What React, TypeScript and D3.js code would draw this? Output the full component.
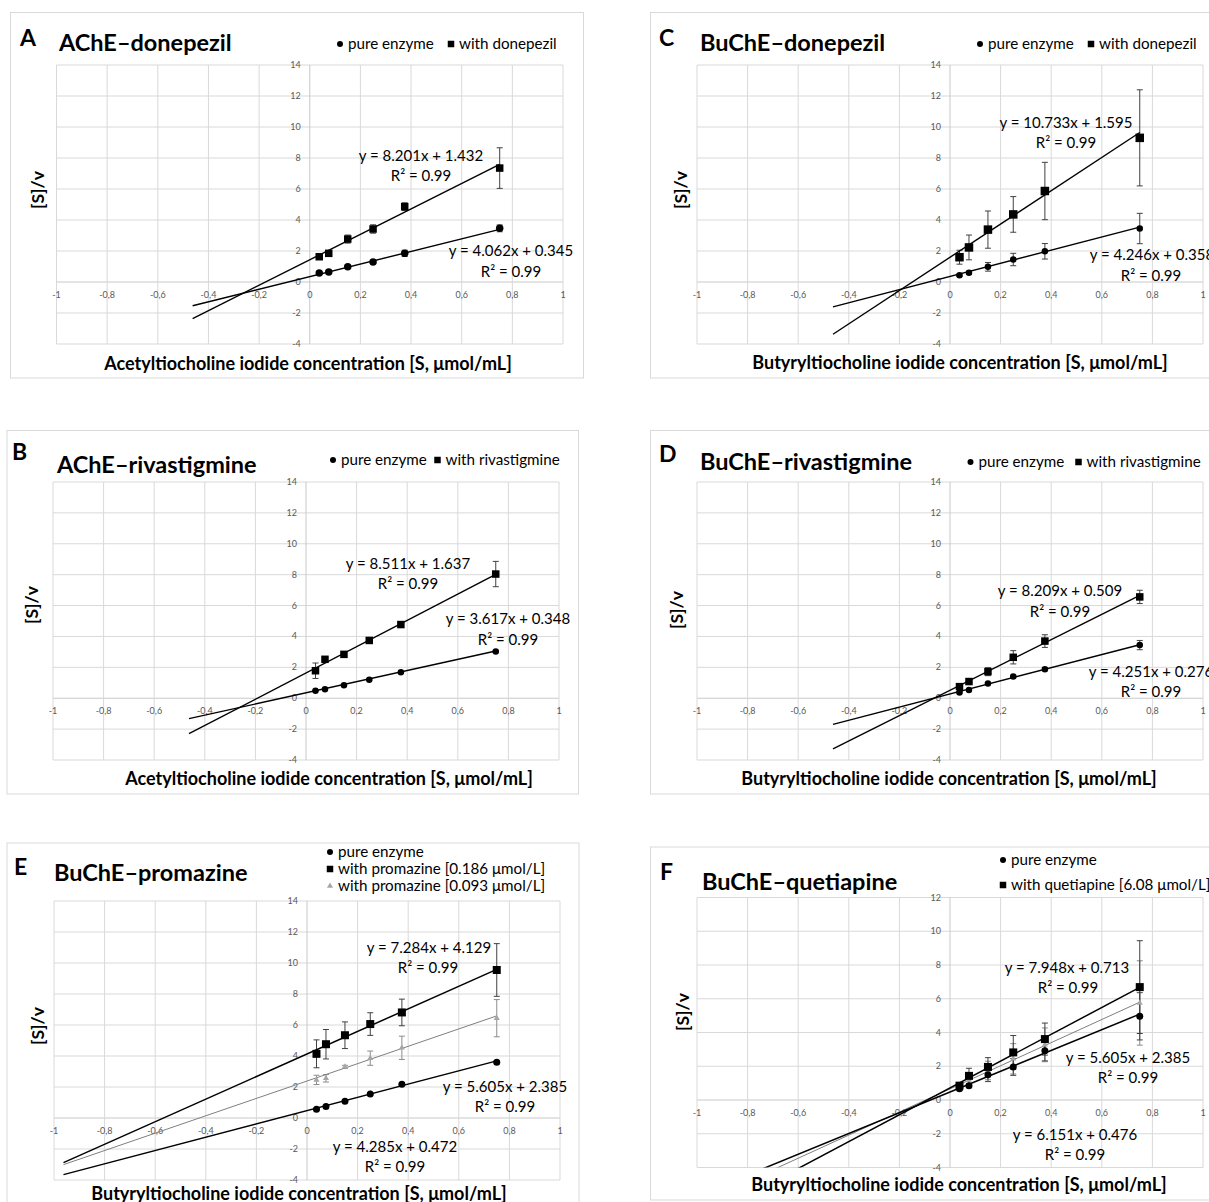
import React from 'react';
import * as d3 from 'd3';

// ---------- shared data ----------
const substrate = [0.0375, 0.075, 0.15, 0.25, 0.375, 0.75];
const xTicks = [-1, -0.8, -0.6, -0.4, -0.2, 0, 0.2, 0.4, 0.6, 0.8, 1];
const yTicks14 = [-4, -2, 0, 2, 4, 6, 8, 10, 12, 14];
const yTicks12 = [-4, -2, 0, 2, 4, 6, 8, 10, 12];

// ---------- Panel A: AChE–donepezil ----------
const aPure = [0.58, 0.65, 0.99, 1.29, 1.85, 3.46];
const aPureErr = [0.04, 0.05, 0.08, 0.1, 0.2, 0.22];
const aDon = [1.63, 1.85, 2.77, 3.42, 4.86, 7.35];
const aDonErr = [0.12, 0.1, 0.26, 0.27, 0.25, 1.31];
const aTrendPure = [4.062, 0.345];
const aTrendDon = [8.201, 1.432];

// ---------- Panel B: AChE–rivastigmine ----------
const bPure = [0.49, 0.58, 0.84, 1.2, 1.68, 3.03];
const bPureErr = [0.03, 0.03, 0.04, 0.05, 0.06, 0.06];
const bRiv = [1.78, 2.52, 2.84, 3.74, 4.77, 8.04];
const bRivErr = [0.5, 0.12, 0.1, 0.15, 0.18, 0.82];
const bTrendPure = [3.617, 0.348];
const bTrendRiv = [8.511, 1.637];

// ---------- Panel C: BuChE–donepezil ----------
const cPure = [0.43, 0.6, 0.98, 1.45, 1.98, 3.45];
const cPureErr = [0.08, 0.1, 0.28, 0.4, 0.5, 0.98];
const cDon = [1.6, 2.23, 3.38, 4.36, 5.87, 9.3];
const cDonErr = [0.45, 0.8, 1.2, 1.15, 1.85, 3.1];
const cTrendPure = [4.246, 0.358];
const cTrendDon = [10.733, 1.595];

// ---------- Panel D: BuChE–rivastigmine ----------
const dPure = [0.37, 0.54, 0.95, 1.4, 1.87, 3.44];
const dPureErr = [0.05, 0.05, 0.06, 0.08, 0.1, 0.3];
const dRiv = [0.75, 1.08, 1.72, 2.65, 3.7, 6.56];
const dRivErr = [0.1, 0.12, 0.26, 0.43, 0.41, 0.43];
const dTrendPure = [4.251, 0.276];
const dTrendRiv = [8.209, 0.509];

// ---------- Panel E: BuChE–promazine ----------
const ePure = [0.56, 0.75, 1.08, 1.55, 2.18, 3.6];
const ePureErr = [0.04, 0.04, 0.05, 0.06, 0.08, 0.1];
const eHigh = [4.14, 4.76, 5.34, 6.06, 6.81, 9.55];
const eHighErr = [0.9, 0.95, 0.86, 0.73, 0.86, 1.7];
const eLow = [2.46, 2.56, 3.3, 3.86, 4.53, 6.44];
const eLowErr = [0.3, 0.24, 0.1, 0.46, 0.75, 1.2];
const eTrendPure = [4.285, 0.472];
const eTrendHigh = [7.284, 4.129];
const eTrendLow = [5.605, 2.385];

// ---------- Panel F: BuChE–quetiapine ----------
const fPure = [0.67, 0.85, 1.49, 1.96, 2.92, 4.96];
const fPureErr = [0.1, 0.1, 0.4, 0.5, 0.6, 1.4];
const fQuet = [0.85, 1.43, 1.96, 2.82, 3.61, 6.69];
const fQuetErr = [0.1, 0.45, 0.55, 1.0, 0.95, 2.75];
const fGray = [0.79, 1.19, 1.75, 2.44, 3.27, 5.75];
const fGrayErr = [0.1, 0.4, 0.55, 0.9, 1.0, 2.5];
const fTrendPure = [6.151, 0.476];
const fTrendQuet = [7.948, 0.713];
const fTrendGray = [6.85, 0.66];

const FONT = "Lato, 'Open Sans', 'DejaVu Sans', sans-serif";
const GRAY_MARK = '#a6a6a6';
const GRAY_LINE = '#7f7f7f';

type Shape = 'circle' | 'square' | 'triangle';
type Series = { values: number[]; errors: number[]; shape: Shape; color: string; size: number };
type Trend = { coef: number[]; color: string; width: number };
type Label = { text: string; x: number; y: number };
type LegendItem = { shape: Shape; color: string; x: number; y: number; text: string };
type PanelCfg = {
  id: string;
  box: { x: number; y: number; w: number; h: number };
  plot: { l: number; r: number; t: number; b: number };
  yDomain: [number, number];
  yTicks: number[];
  letter: Label;
  title: Label;
  legend: LegendItem[];
  yTitle: { x: number; y: number };
  xTitle: Label;
  series: Series[];
  trends: Trend[];
  trendFrom: number;
  eqs: Label[];
};

const ACH = 'Acetyltiocholine iodide concentration [S, μmol/mL]';
const BCH = 'Butyryltiocholine iodide concentration [S, μmol/mL]';

const panels: PanelCfg[] = [
  {
    id: 'A',
    box: { x: 10.5, y: 12.5, w: 573, h: 365.5 },
    plot: { l: 56.5, r: 563, t: 65, b: 344 },
    yDomain: [-4, 14],
    yTicks: yTicks14,
    letter: { text: 'A', x: 20, y: 46 },
    title: { text: 'AChE–donepezil', x: 59, y: 51 },
    legend: [
      { shape: 'circle', color: '#000', x: 340, y: 44, text: 'pure enzyme' },
      { shape: 'square', color: '#000', x: 451, y: 44, text: 'with donepezil' },
    ],
    yTitle: { x: 38, y: 190 },
    xTitle: { text: ACH, x: 308, y: 370 },
    series: [
      { values: aPure, errors: aPureErr, shape: 'circle', color: '#000', size: 7.5 },
      { values: aDon, errors: aDonErr, shape: 'square', color: '#000', size: 7.5 },
    ],
    trends: [
      { coef: aTrendPure, color: '#000', width: 1.4 },
      { coef: aTrendDon, color: '#000', width: 1.4 },
    ],
    trendFrom: -0.4625,
    eqs: [
      { text: 'y = 8.201x + 1.432', x: 421, y: 161 },
      { text: 'R² = 0.99', x: 421, y: 181 },
      { text: 'y = 4.062x + 0.345', x: 511, y: 256 },
      { text: 'R² = 0.99', x: 511, y: 277 },
    ],
  },
  {
    id: 'C',
    box: { x: 650.5, y: 12.5, w: 570, h: 365.5 },
    plot: { l: 697, r: 1203, t: 65, b: 344 },
    yDomain: [-4, 14],
    yTicks: yTicks14,
    letter: { text: 'C', x: 659, y: 46 },
    title: { text: 'BuChE–donepezil', x: 700, y: 51 },
    legend: [
      { shape: 'circle', color: '#000', x: 980, y: 44, text: 'pure enzyme' },
      { shape: 'square', color: '#000', x: 1091, y: 44, text: 'with donepezil' },
    ],
    yTitle: { x: 681, y: 190 },
    xTitle: { text: BCH, x: 960, y: 369 },
    series: [
      { values: cPure, errors: cPureErr, shape: 'circle', color: '#000', size: 6.5 },
      { values: cDon, errors: cDonErr, shape: 'square', color: '#000', size: 8.5 },
    ],
    trends: [
      { coef: cTrendPure, color: '#000', width: 1.4 },
      { coef: cTrendDon, color: '#000', width: 1.4 },
    ],
    trendFrom: -0.4625,
    eqs: [
      { text: 'y = 10.733x + 1.595', x: 1066, y: 128 },
      { text: 'R² = 0.99', x: 1066, y: 148 },
      { text: 'y = 4.246x + 0.358', x: 1152, y: 260 },
      { text: 'R² = 0.99', x: 1151, y: 281 },
    ],
  },
  {
    id: 'B',
    box: { x: 7, y: 430.5, w: 571.5, h: 363.5 },
    plot: { l: 53, r: 559, t: 482, b: 760 },
    yDomain: [-4, 14],
    yTicks: yTicks14,
    letter: { text: 'B', x: 12, y: 460 },
    title: { text: 'AChE–rivastigmine', x: 57, y: 473 },
    legend: [
      { shape: 'circle', color: '#000', x: 333, y: 460, text: 'pure enzyme' },
      { shape: 'square', color: '#000', x: 437.5, y: 460, text: 'with rivastigmine' },
    ],
    yTitle: { x: 32, y: 605 },
    xTitle: { text: ACH, x: 329, y: 785 },
    series: [
      { values: bPure, errors: bPureErr, shape: 'circle', color: '#000', size: 6.5 },
      { values: bRiv, errors: bRivErr, shape: 'square', color: '#000', size: 7.5 },
    ],
    trends: [
      { coef: bTrendPure, color: '#000', width: 1.4 },
      { coef: bTrendRiv, color: '#000', width: 1.4 },
    ],
    trendFrom: -0.4625,
    eqs: [
      { text: 'y = 8.511x + 1.637', x: 408, y: 569 },
      { text: 'R² = 0.99', x: 408, y: 589 },
      { text: 'y = 3.617x + 0.348', x: 508, y: 624 },
      { text: 'R² = 0.99', x: 508, y: 645 },
    ],
  },
  {
    id: 'D',
    box: { x: 650.5, y: 430.5, w: 570, h: 363.5 },
    plot: { l: 697, r: 1203, t: 482, b: 760 },
    yDomain: [-4, 14],
    yTicks: yTicks14,
    letter: { text: 'D', x: 659, y: 462 },
    title: { text: 'BuChE–rivastigmine', x: 700, y: 470 },
    legend: [
      { shape: 'circle', color: '#000', x: 970.5, y: 462, text: 'pure enzyme' },
      { shape: 'square', color: '#000', x: 1078.5, y: 462, text: 'with rivastigmine' },
    ],
    yTitle: { x: 677, y: 610 },
    xTitle: { text: BCH, x: 949, y: 785 },
    series: [
      { values: dPure, errors: dPureErr, shape: 'circle', color: '#000', size: 6.5 },
      { values: dRiv, errors: dRivErr, shape: 'square', color: '#000', size: 7.5 },
    ],
    trends: [
      { coef: dTrendPure, color: '#000', width: 1.4 },
      { coef: dTrendRiv, color: '#000', width: 1.4 },
    ],
    trendFrom: -0.4625,
    eqs: [
      { text: 'y = 8.209x + 0.509', x: 1060, y: 596 },
      { text: 'R² = 0.99', x: 1060, y: 617 },
      { text: 'y = 4.251x + 0.276', x: 1151, y: 677 },
      { text: 'R² = 0.99', x: 1151, y: 697 },
    ],
  },
  {
    id: 'E',
    box: { x: 7, y: 843, w: 572, h: 370 },
    plot: { l: 54, r: 560, t: 901, b: 1180 },
    yDomain: [-4, 14],
    yTicks: yTicks14,
    letter: { text: 'E', x: 14, y: 875 },
    title: { text: 'BuChE–promazine', x: 54, y: 881 },
    legend: [
      { shape: 'circle', color: '#000', x: 330, y: 852, text: 'pure enzyme' },
      { shape: 'square', color: '#000', x: 330, y: 869, text: 'with promazine [0.186 μmol/L]' },
      { shape: 'triangle', color: GRAY_MARK, x: 330, y: 886, text: 'with promazine [0.093 μmol/L]' },
    ],
    yTitle: { x: 38, y: 1026 },
    xTitle: { text: BCH, x: 299, y: 1200 },
    series: [
      { values: eLow, errors: eLowErr, shape: 'triangle', color: GRAY_MARK, size: 6 },
      { values: ePure, errors: ePureErr, shape: 'circle', color: '#000', size: 7 },
      { values: eHigh, errors: eHighErr, shape: 'square', color: '#000', size: 8 },
    ],
    trends: [
      { coef: eTrendLow, color: GRAY_LINE, width: 1 },
      { coef: eTrendPure, color: '#000', width: 1.5 },
      { coef: eTrendHigh, color: '#000', width: 1.5 },
    ],
    trendFrom: -0.9625,
    eqs: [
      { text: 'y = 7.284x + 4.129', x: 429, y: 953 },
      { text: 'R² = 0.99', x: 428, y: 973 },
      { text: 'y = 5.605x + 2.385', x: 505, y: 1092 },
      { text: 'R² = 0.99', x: 505, y: 1112 },
      { text: 'y = 4.285x + 0.472', x: 395, y: 1152 },
      { text: 'R² = 0.99', x: 395, y: 1172 },
    ],
  },
  {
    id: 'F',
    box: { x: 650.5, y: 847, w: 570, h: 353 },
    plot: { l: 697, r: 1203, t: 897.5, b: 1167.5 },
    yDomain: [-4, 12],
    yTicks: yTicks12,
    letter: { text: 'F', x: 660, y: 880 },
    title: { text: 'BuChE–quetiapine', x: 702, y: 890 },
    legend: [
      { shape: 'circle', color: '#000', x: 1003, y: 860, text: 'pure enzyme' },
      { shape: 'square', color: '#000', x: 1003, y: 885, text: 'with quetiapine [6.08 μmol/L]' },
    ],
    yTitle: { x: 683, y: 1012 },
    xTitle: { text: BCH, x: 959, y: 1191 },
    series: [
      { values: fGray, errors: fGrayErr, shape: 'triangle', color: GRAY_MARK, size: 6 },
      { values: fPure, errors: fPureErr, shape: 'circle', color: '#000', size: 7 },
      { values: fQuet, errors: fQuetErr, shape: 'square', color: '#000', size: 8 },
    ],
    trends: [
      { coef: fTrendGray, color: GRAY_LINE, width: 1 },
      { coef: fTrendPure, color: '#000', width: 1.5 },
      { coef: fTrendQuet, color: '#000', width: 1.5 },
    ],
    trendFrom: -0.9625,
    eqs: [
      { text: 'y = 7.948x + 0.713', x: 1067, y: 973 },
      { text: 'R² = 0.99', x: 1068, y: 993 },
      { text: 'y = 5.605x + 2.385', x: 1128, y: 1063 },
      { text: 'R² = 0.99', x: 1128, y: 1083 },
      { text: 'y = 6.151x + 0.476', x: 1075, y: 1140 },
      { text: 'R² = 0.99', x: 1075, y: 1160 },
    ],
  },
];

function Marker({ shape, color, cx, cy, size }: { shape: Shape; color: string; cx: number; cy: number; size: number }) {
  if (shape === 'circle') return <circle cx={cx} cy={cy} r={size / 2} fill={color} />;
  if (shape === 'square')
    return <rect x={cx - size / 2} y={cy - size / 2} width={size} height={size} fill={color} />;
  const path = d3.symbol(d3.symbolTriangle, size * size * 0.45)() as string;
  return <path d={path} transform={`translate(${cx},${cy})`} fill={color} />;
}

const fmtTick = (v: number) => {
  const s = d3.format('~g')(Math.round(v * 10) / 10);
  return s.replace('.', ',').replace('−', '-');
};

function Panel({ cfg }: { cfg: PanelCfg }) {
  const { plot } = cfg;
  const x = d3.scaleLinear().domain([-1, 1]).range([plot.l, plot.r]);
  const y = d3.scaleLinear().domain(cfg.yDomain).range([plot.b, plot.t]);
  const x0 = x(0);
  const y0 = y(0);
  const clipId = `clip-${cfg.id}`;
  return (
    <g>
      <rect
        x={cfg.box.x}
        y={cfg.box.y}
        width={cfg.box.w}
        height={cfg.box.h}
        fill="#fff"
        stroke="#d9d9d9"
        strokeWidth={1}
      />
      <defs>
        <clipPath id={clipId}>
          <rect x={plot.l} y={plot.t} width={plot.r - plot.l} height={plot.b - plot.t} />
        </clipPath>
      </defs>
      {/* gridlines */}
      {cfg.yTicks.map((t) => (
        <line key={'h' + t} x1={plot.l} x2={plot.r} y1={y(t)} y2={y(t)} stroke={t === 0 ? '#c8c8c8' : '#d9d9d9'} strokeWidth={1} />
      ))}
      {xTicks.map((t) => (
        <line key={'v' + t} x1={x(t)} x2={x(t)} y1={plot.t} y2={plot.b} stroke={t === 0 ? '#c8c8c8' : '#d9d9d9'} strokeWidth={1} />
      ))}
      {/* tick labels */}
      {cfg.yTicks.map((t) => (
        <text key={'yl' + t} x={x0 - 9} y={y(t) + 3} textAnchor="end" fontSize={9} fill="#595959" fontFamily={FONT}>
          {fmtTick(t)}
        </text>
      ))}
      {xTicks.map((t) => (
        <text key={'xl' + t} x={x(t)} y={y0 + 15.5} textAnchor="middle" fontSize={9} fill="#595959" fontFamily={FONT}>
          {fmtTick(t)}
        </text>
      ))}
      {/* error bars */}
      {cfg.series.map((s, si) =>
        s.values.map((v, i) => {
          const px = x(substrate[i]);
          const top = y(v + s.errors[i]);
          const bot = y(v - s.errors[i]);
          const col = s.color === '#000' ? '#404040' : '#8c8c8c';
          return (
            <g key={`e${si}-${i}`} stroke={col} strokeWidth={1}>
              <line x1={px} x2={px} y1={top} y2={bot} />
              <line x1={px - 3} x2={px + 3} y1={top} y2={top} />
              <line x1={px - 3} x2={px + 3} y1={bot} y2={bot} />
            </g>
          );
        })
      )}
      {/* trendlines */}
      <g clipPath={`url(#${clipId})`}>
        {cfg.trends.map((t, ti) => {
          const pts = [cfg.trendFrom, 0.75];
          const d = d3
            .line<number>()
            .x((v) => x(v))
            .y((v) => y(t.coef[0] * v + t.coef[1]))(pts) as string;
          return <path key={'t' + ti} d={d} fill="none" stroke={t.color} strokeWidth={t.width} />;
        })}
      </g>
      {/* markers */}
      {cfg.series.map((s, si) =>
        s.values.map((v, i) => (
          <Marker key={`m${si}-${i}`} shape={s.shape} color={s.color} cx={x(substrate[i])} cy={y(v)} size={s.size} />
        ))
      )}
      {/* equations */}
      {cfg.eqs.map((e, i) => (
        <text key={'eq' + i} x={e.x} y={e.y} textAnchor="middle" fontSize={15} fill="#000" fontFamily={FONT}>
          {e.text}
        </text>
      ))}
      {/* titles */}
      <text x={cfg.letter.x} y={cfg.letter.y} fontSize={23} fontWeight="bold" fontFamily={FONT} fill="#000">
        {cfg.letter.text}
      </text>
      <text x={cfg.title.x} y={cfg.title.y} fontSize={23.5} fontWeight="bold" fontFamily={FONT} fill="#000">
        {cfg.title.text}
      </text>
      {cfg.legend.map((l, i) => (
        <g key={'lg' + i}>
          <Marker shape={l.shape} color={l.color} cx={l.x} cy={l.y} size={l.shape === 'square' ? 6.5 : 6} />
          <text x={l.x + 8} y={l.y + 5} fontSize={15.2} fontFamily={FONT} fill="#000">
            {l.text}
          </text>
        </g>
      ))}
      <text
        transform={`translate(${cfg.yTitle.x},${cfg.yTitle.y}) rotate(-90)`}
        textAnchor="middle"
        dy="0.35em"
        fontSize={17.5}
        fontWeight="bold"
        fontFamily={FONT}
        fill="#000"
      >
        [S]/v
      </text>
      <text x={cfg.xTitle.x} y={cfg.xTitle.y} textAnchor="middle" fontSize={18} fontWeight="bold" fontFamily={FONT} fill="#000">
        {cfg.xTitle.text}
      </text>
    </g>
  );
}

export default function App() {
  return (
    <svg
      width={1209}
      height={1202}
      viewBox="0 0 1209 1202"
      style={{ position: 'absolute', left: 0, top: 0, background: '#fff' }}
    >
      <rect x={0} y={0} width={1209} height={1202} fill="#fff" />
      {panels.map((p) => (
        <Panel key={p.id} cfg={p} />
      ))}
    </svg>
  );
}
